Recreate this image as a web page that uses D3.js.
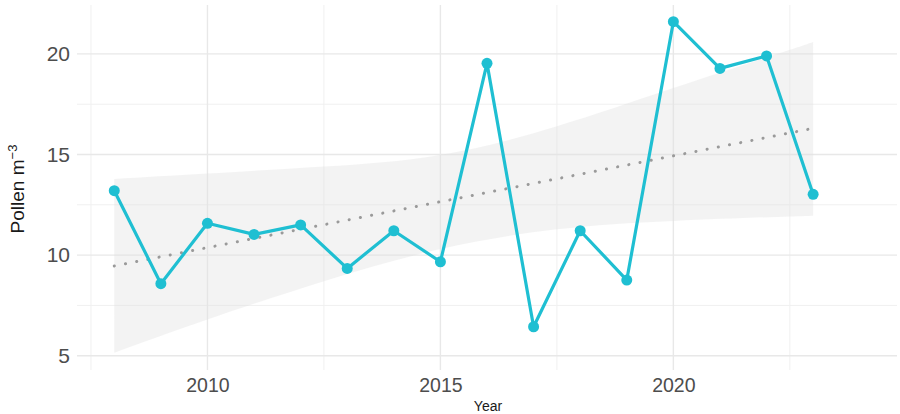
<!DOCTYPE html>
<html>
<head>
<meta charset="utf-8">
<script src="https://cdn.jsdelivr.net/npm/d3@7"></script>
<style>
  body { margin: 0; background: #fff; }
  text { font-family: "Liberation Sans", Arial, sans-serif; }
</style>
</head>
<body>
<script>
// yearly pollen values
var years = [2008, 2009, 2010, 2011, 2012, 2013, 2014, 2015, 2016, 2017, 2018, 2019, 2020, 2021, 2022, 2023];
var pollen = [13.2, 8.58, 11.58, 11.03, 11.5, 9.34, 11.21, 9.67, 19.53, 6.44, 11.21, 8.76, 21.6, 19.28, 19.9, 13.02];

// linear trend ends and its confidence band
var trendYears = [2008, 2023];
var trendValues = [9.46, 16.3];
var bandYears = [2008, 2010, 2012.5, 2015, 2017.5, 2020, 2022.5, 2023];
var bandUpper = [13.78, 14.05, 14.4, 14.98, 16.4, 18.3, 20.2, 20.61];
var bandLower = [5.15, 6.8, 8.7, 10.3, 11.28, 11.7, 11.92, 11.96];

// ticks
var xMajor = [2010, 2015, 2020];
var xMinor = [2007.5, 2012.5, 2017.5, 2022.5];
var yMajor = [5, 10, 15, 20];
var yMinor = [7.5, 12.5, 17.5];

var W = 900, H = 414;
// panel edges (window.top is reserved, so keep them in an object)
var panel = {left: 77, right: 897, top: 5, bottom: 370};

var svg = d3.select("body").append("svg")
    .attr("width", W)
    .attr("height", H);

var x = d3.scaleLinear().domain([2007.2, 2024.8]).range([panel.left, panel.right]);
var y = d3.scaleLinear().domain([4.29, 22.43]).range([panel.bottom, panel.top]);

// grid, minor first then major
svg.append("g").selectAll("line")
    .data(yMinor).enter().append("line")
    .attr("x1", panel.left).attr("x2", panel.right)
    .attr("y1", function(d) { return y(d); })
    .attr("y2", function(d) { return y(d); })
    .attr("stroke", "#f0f0f0").attr("stroke-width", 1);
svg.append("g").selectAll("line")
    .data(xMinor).enter().append("line")
    .attr("y1", panel.top).attr("y2", panel.bottom)
    .attr("x1", function(d) { return x(d); })
    .attr("x2", function(d) { return x(d); })
    .attr("stroke", "#f0f0f0").attr("stroke-width", 1);
svg.append("g").selectAll("line")
    .data(yMajor).enter().append("line")
    .attr("x1", panel.left).attr("x2", panel.right)
    .attr("y1", function(d) { return y(d); })
    .attr("y2", function(d) { return y(d); })
    .attr("stroke", "#e8e8e8").attr("stroke-width", 1.4);
svg.append("g").selectAll("line")
    .data(xMajor).enter().append("line")
    .attr("y1", panel.top).attr("y2", panel.bottom)
    .attr("x1", function(d) { return x(d); })
    .attr("x2", function(d) { return x(d); })
    .attr("stroke", "#e8e8e8").attr("stroke-width", 1.4);

// confidence band
var band = bandYears.map(function(yr, i) { return {year: yr, lo: bandLower[i], hi: bandUpper[i]}; });
svg.append("path")
    .datum(band)
    .attr("fill", "#e0e0e0")
    .attr("fill-opacity", 0.38)
    .attr("d", d3.area()
        .curve(d3.curveNatural)
        .x(function(d) { return x(d.year); })
        .y0(function(d) { return y(d.lo); })
        .y1(function(d) { return y(d.hi); }));

// dotted trend line
svg.append("path")
    .datum(trendYears.map(function(yr, i) { return {year: yr, v: trendValues[i]}; }))
    .attr("fill", "none")
    .attr("stroke", "#9a9a9a")
    .attr("stroke-width", 3)
    .attr("stroke-linecap", "round")
    .attr("stroke-dasharray", "0.1 11.3")
    .attr("d", d3.line()
        .x(function(d) { return x(d.year); })
        .y(function(d) { return y(d.v); }));

// series
var pts = years.map(function(yr, i) { return {year: yr, v: pollen[i]}; });
var teal = "#1fbfd2";
svg.append("path")
    .datum(pts)
    .attr("fill", "none")
    .attr("stroke", teal)
    .attr("stroke-width", 3.2)
    .attr("stroke-linejoin", "round")
    .attr("d", d3.line()
        .x(function(d) { return x(d.year); })
        .y(function(d) { return y(d.v); }));
svg.append("g").selectAll("circle")
    .data(pts).enter().append("circle")
    .attr("cx", function(d) { return x(d.year); })
    .attr("cy", function(d) { return y(d.v); })
    .attr("r", 5.5)
    .attr("fill", teal);

// axes (labels only, no domain line or ticks)
var yAxis = svg.append("g")
    .attr("transform", "translate(" + (panel.left - 7) + ",0)")
    .call(d3.axisLeft(y).tickValues(yMajor).tickSize(0).tickPadding(0));
yAxis.select(".domain").remove();
yAxis.selectAll("text")
    .attr("fill", "#4d4d4d")
    .style("font-size", "21px")
    .style("font-family", "'Liberation Sans', Arial, sans-serif");

var xAxis = svg.append("g")
    .attr("transform", "translate(0," + (panel.bottom + 8) + ")")
    .call(d3.axisBottom(x).tickValues(xMajor).tickFormat(d3.format("d")).tickSize(0).tickPadding(0));
xAxis.select(".domain").remove();
xAxis.selectAll("text")
    .attr("fill", "#4d4d4d")
    .attr("dy", "0.71em")
    .style("font-size", "19.5px")
    .style("font-family", "'Liberation Sans', Arial, sans-serif");

// axis titles
var yt = svg.append("text")
    .attr("transform", "translate(24,189) rotate(-90)")
    .attr("text-anchor", "middle")
    .attr("fill", "#1a1a1a")
    .style("font-size", "19px");
yt.append("tspan").text("Pollen m");
yt.append("tspan").attr("dy", "-0.55em").style("font-size", "13px").text("\u22123");

svg.append("text")
    .attr("x", 488)
    .attr("y", 411)
    .attr("text-anchor", "middle")
    .attr("fill", "#1a1a1a")
    .style("font-size", "14px")
    .text("Year");
</script>
</body>
</html>
